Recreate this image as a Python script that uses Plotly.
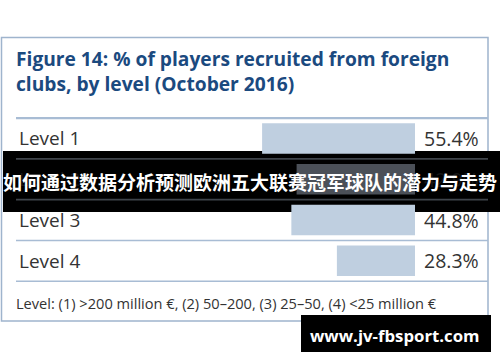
import plotly.graph_objects as go

levels = ["Level 1", "Level 2", "Level 3", "Level 4"]
values = [55.4, 42.9, 44.8, 28.3]
title_lines = ["Figure 14: % of players recruited from foreign", "clubs, by level (October 2016)"]
footnote = "Level: (1) >200 million €, (2) 50–200, (3) 25–50, (4) <25 million €"
banner_text = "如何通过数据分析预测欧洲五大联赛冠军球队的潜力与走势"
watermark = "www.jv-fbsport.com"

W, H = 500, 362
ML, MR, MT, MB = 100, 85, 117, 80
PW, PH = W - ML - MR, H - MT - MB

def px(x):
    return (x - ML) / PW

def py(y):
    return 1 - (y - MT) / PH

bar_color = "#bfcfe0"
hidden_bar = "#4b5058"
colors = [hidden_bar if i == 1 else bar_color for i in range(len(levels))]

fig = go.Figure()
fig.add_trace(go.Bar(
    y=levels, x=values, orientation="h",
    marker=dict(color=colors, line=dict(width=0)),
    hoverinfo="skip",
))

shapes = []
# outer border
shapes.append(dict(type="rect", xref="paper", yref="paper", layer="below",
                   x0=px(1.5), x1=px(488), y0=py(37.5), y1=py(321),
                   line=dict(color="#9fb4cd", width=1.5), fillcolor="rgba(0,0,0,0)"))
# banner overlay
shapes.append(dict(type="rect", xref="paper", yref="paper", layer="below",
                   x0=px(3), x1=px(500), y0=py(151), y1=py(212),
                   line=dict(width=0), fillcolor="#000000"))
# separators
for i in range(len(levels) + 1):
    yv = i - 0.5
    dark = i in (1, 2)
    shapes.append(dict(type="line", xref="paper", yref="y", layer="below",
                       x0=px(16), x1=px(488), y0=yv, y1=yv,
                       line=dict(color="#3f444b" if dark else "#a8bcd4",
                                 width=2.2 if i == 0 else 1.6)))
# watermark box
shapes.append(dict(type="rect", xref="paper", yref="paper", layer="above",
                   x0=px(301), x1=px(491), y0=py(315), y1=py(352),
                   line=dict(width=0), fillcolor="#000000"))

ann = []
ann.append(dict(xref="paper", yref="paper", x=px(14), y=py(71.5), xanchor="left", yanchor="middle",
                text="<br>".join(title_lines), showarrow=False, align="left",
                font=dict(family="Open Sans", size=19.2, color="#1b4a7f", weight="bold")))
for i, (lab, v) in enumerate(zip(levels, values)):
    c = "#161616" if i == 1 else "#333333"
    ann.append(dict(xref="paper", yref="y", x=px(17), y=lab, xanchor="left", yanchor="middle",
                    text=lab, showarrow=False, font=dict(family="Open Sans", size=19, color=c)))
    ann.append(dict(xref="x", yref="y", x=0, y=lab, xanchor="left", yanchor="middle", xshift=7,
                    text=f"{v:.1f}%", showarrow=False, font=dict(family="Open Sans", size=19.5, color=c)))
ann.append(dict(xref="paper", yref="paper", x=px(14), y=py(303), xanchor="left", yanchor="middle",
                text=footnote, showarrow=False,
                font=dict(family="Open Sans", size=14.6, color="#333333")))
ann.append(dict(xref="paper", yref="paper", x=px(250), y=py(181.5), xanchor="center", yanchor="middle",
                text=banner_text, showarrow=False,
                font=dict(family="Noto Sans CJK SC", size=19, color="#ffffff", weight="bold")))
ann.append(dict(xref="paper", yref="paper", x=px(395), y=py(335), xanchor="center", yanchor="middle",
                text=watermark, showarrow=False,
                font=dict(family="Open Sans", size=16.8, color="#ffffff", weight="bold")))

fig.update_layout(
    width=W, height=H,
    margin=dict(l=ML, r=MR, t=MT, b=MB),
    paper_bgcolor="#ffffff", plot_bgcolor="rgba(0,0,0,0)",
    bargap=0.25, showlegend=False,
    xaxis=dict(range=[PW / 2.76, 0], visible=False, fixedrange=True),
    yaxis=dict(categoryorder="array", categoryarray=levels, autorange="reversed",
               visible=False, fixedrange=True, range=[len(levels) - 0.5, -0.5]),
    shapes=shapes, annotations=ann,
)
fig.write_html("out.html", config={"displayModeBar": False})
